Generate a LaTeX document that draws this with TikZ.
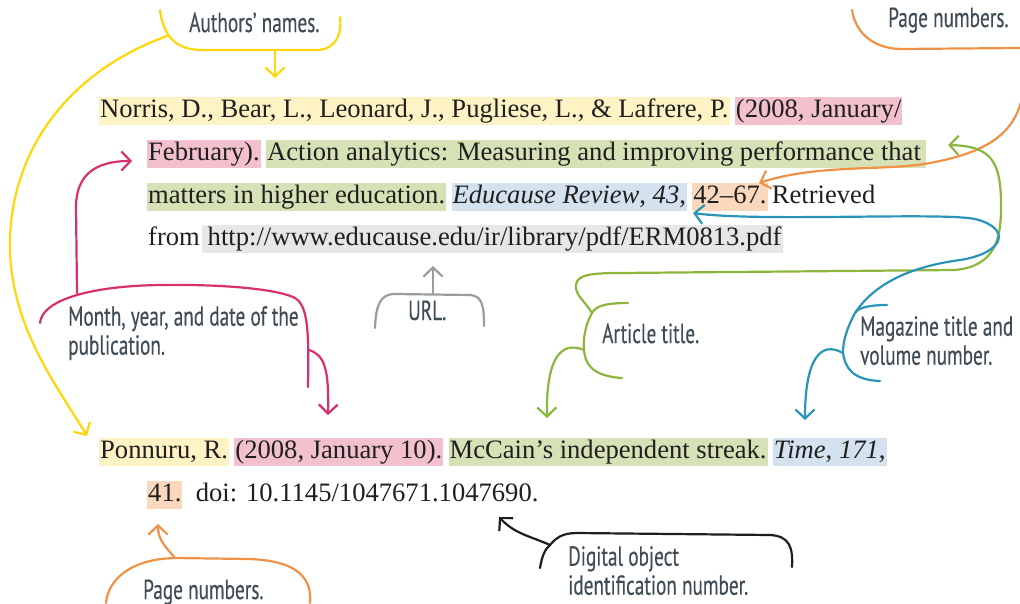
\documentclass[tikz,border=0pt]{standalone}
\usepackage{fontspec}
\setmainfont{Liberation Serif}
\newfontfamily\notefont[FakeStretch=0.7,FakeBold=0.4]{PT Sans}
\usetikzlibrary{positioning,arrows.meta}

\definecolor{hlyellow}{HTML}{FEF3C4}
\definecolor{hlpink}{HTML}{F2C1CD}
\definecolor{hlgreen}{HTML}{D6E1B6}
\definecolor{hlblue}{HTML}{D3E2EE}
\definecolor{hlorange}{HTML}{F9D8BD}
\definecolor{hlgray}{HTML}{E6E7E8}
\definecolor{penyellow}{HTML}{FFD60A}
\definecolor{penpink}{HTML}{D8306F}
\definecolor{penorange}{HTML}{EF9247}
\definecolor{pengreen}{HTML}{8DB63C}
\definecolor{penblue}{HTML}{2A93B8}
\definecolor{pengray}{HTML}{9B9B9B}
\definecolor{penblack}{HTML}{1E1E1E}
\definecolor{notegray}{HTML}{414D55}

\begin{document}
\begin{tikzpicture}[x=1pt,y=-1pt,>={Straight Barb[length=9pt,width=19pt]},
  ref/.style={font=\fontsize{26.6}{30}\selectfont, text=black!88, inner xsep=1pt,
    inner ysep=1.5pt, text height=19pt, text depth=6pt},
  hl/.style={ref, fill=#1},
  note/.style={font=\notefont\fontsize{27.5}{29}\selectfont, text=notegray,
    inner sep=0pt, align=left},
  pen/.style={line width=2.2pt, line cap=round, line join=round, draw=#1}]
  \path[use as bounding box] (0,0) rectangle (1020,603);

  % --- First reference (journal article) ---
  \node[hl=hlyellow, anchor=base west] (auth1) at (99,117.5)
    {Norris, D., Bear, L., Leonard, J., Pugliese, L., \& Lafrere, P.};
  \node[hl=hlpink, base right=5pt of auth1] (date1a) {(2008, January/};
  \node[hl=hlpink, anchor=base west] (date1b) at (147,160.5) {February).};
  \node[hl=hlgreen, base right=5pt of date1b] (title1a)
    {Action analytics: Measuring and improving performance that\,};
  \node[hl=hlgreen, anchor=base west] (title1b) at (147,203.5) {matters in higher education.};
  \node[hl=hlblue, base right=5pt of title1b] (mag1) {\textit{Educause Review}, \textit{43},};
  \node[hl=hlorange, base right=5pt of mag1] (page1) {42--67.};
  \node[ref, base right=3pt of page1] (retr) {Retrieved};
  \node[ref, anchor=base west] (from) at (147,245.5) {from};
  \node[hl=hlgray, base right=1pt of from] (url) {\,http://www.educause.edu/ir/library/pdf/ERM0813.pdf};

  % --- Second reference (magazine article) ---
  \node[hl=hlyellow, anchor=base west] (auth2) at (99,458.5) {Ponnuru, R.};
  \node[hl=hlpink, base right=5pt of auth2] (date2) {(2008, January 10).};
  \node[hl=hlgreen, base right=5pt of date2] (title2) {McCain’s independent streak.};
  \node[hl=hlblue, base right=5pt of title2] (mag2) {\textit{Time}, \textit{171},};
  \node[hl=hlorange, anchor=base west] (page2) at (147,501.5) {41.};
  \node[ref, base right=12pt of page2] (doi) {doi: 10.1145/1047671.1047690.};

  % --- Labels ---
  \node[note, anchor=base west] (authlbl) at (189,32) {Authors’ names.};
  \node[note, anchor=base west] (pagelbl1) at (888,27) {Page numbers.};
  \node[note, anchor=base west] (urllbl) at (408,320) {URL.};
  \node[note, anchor=north west] (datelbl) at (68,306) {Month, year, and date of the\\publication.};
  \node[note, anchor=base west] (titlelbl) at (602,343) {Article title.};
  \node[note, anchor=north west] (maglbl) at (860,316) {Magazine title and\\volume number.};
  \node[note, anchor=north west] (doilbl) at (568,546) {Digital object\\identification number.};
  \node[note, anchor=base west] (pagelbl2) at (143,599) {Page numbers.};

  % --- Authors (yellow) ---
  \coordinate (authL) at (160,10);
  \coordinate (authR) at (340,17);
  \coordinate (authM) at (275,50);
  \coordinate (authS) at (167,36);
  \coordinate (authTip) at (275,78);
  \coordinate (auth2Tip) at (87,436);
  \draw[pen=penyellow] (authL) .. controls (163,32) and (172,49) .. (200,50)
    -- (318,50) .. controls (336,49) and (342,34) .. (authR);
  \draw[pen=penyellow, ->] (authM) -- (authTip);
  \draw[pen=penyellow, ->] (authS) .. controls (60,75) and (8,160) .. (10,250)
    .. controls (12,330) and (60,390) .. (auth2Tip);

  % --- Date (pink) ---
  \coordinate (dateL) at (40,323);
  \coordinate (dateR) at (308,387);
  \coordinate (dateUp) at (77,293);
  \coordinate (dateDn) at (309,350);
  \coordinate (date1Tip) at (132,161);
  \coordinate (date2Tip) at (328,415);
  \draw[pen=penpink] (dateL) .. controls (42,300) and (90,286) .. (160,285)
    .. controls (230,284) and (280,290) .. (295,298)
    .. controls (308,306) and (309,330) .. (dateR);
  \draw[pen=penpink, ->] (dateUp) -- (76,205) .. controls (77,175) and (95,161) .. (date1Tip);
  \draw[pen=penpink, ->] (dateDn) .. controls (325,355) and (329,370) .. (date2Tip);

  % --- URL (gray) ---
  \coordinate (urlL) at (375,328);
  \coordinate (urlR) at (484,326);
  \coordinate (urlM) at (433,293);
  \coordinate (urlTip) at (433,266);
  \draw[pen=pengray] (urlL) .. controls (376,305) and (380,294) .. (395,294)
    -- (470,295) .. controls (482,296) and (484,305) .. (urlR);
  \draw[pen=pengray, ->] (urlM) -- (urlTip);

  % --- Page numbers (orange) ---
  \coordinate (page1L) at (852,10);
  \coordinate (page1E) at (1020,48);
  \coordinate (page1S) at (1021,102);
  \coordinate (page1Tip) at (759,183);
  \draw[pen=penorange] (page1L) .. controls (855,30) and (870,48) .. (900,49) -- (page1E);
  \draw[pen=penorange, ->] (page1S) .. controls (1012,135) and (985,152) .. (935,162)
    .. controls (890,172) and (820,163) .. (page1Tip);
  \coordinate (page2L) at (106,603);
  \coordinate (page2R) at (310,603);
  \coordinate (page2M) at (175,558);
  \coordinate (page2Tip) at (158,524);
  \draw[pen=penorange] (page2L) .. controls (108,580) and (130,559) .. (page2M)
    -- (250,559) .. controls (300,561) and (312,580) .. (page2R);
  \draw[pen=penorange, ->] (page2M) .. controls (165,546) and (158,540) .. (page2Tip);

  % --- Article title (green) ---
  \coordinate (titleT) at (628,303);
  \coordinate (titleJ) at (592,313);
  \coordinate (titleC) at (584,350);
  \coordinate (titleB) at (622,378);
  \coordinate (title1Tip) at (948,145);
  \coordinate (title2Tip) at (547,418);
  \draw[pen=pengreen] (titleT) .. controls (605,303) and (596,306) .. (titleJ)
    .. controls (585,325) and (583,340) .. (titleC)
    .. controls (585,362) and (590,376) .. (titleB);
  \draw[pen=pengreen, ->] (titleJ) .. controls (584,300) and (575,295) .. (576,285)
    .. controls (577,275) and (590,273) .. (620,273) -- (955,270)
    .. controls (995,266) and (1002,240) .. (1001,200)
    .. controls (1000,160) and (990,146) .. (title1Tip);
  \draw[pen=pengreen, ->] (titleC) .. controls (560,340) and (546,360) .. (title2Tip);

  % --- Magazine title (blue) ---
  \coordinate (magT) at (887,305);
  \coordinate (magJ) at (855,313);
  \coordinate (magC) at (843,353);
  \coordinate (magB) at (880,381);
  \coordinate (mag1Tip) at (693,213);
  \coordinate (mag2Tip) at (805,420);
  \draw[pen=penblue] (magT) .. controls (868,305) and (858,308) .. (magJ)
    .. controls (846,330) and (843,342) .. (magC)
    .. controls (845,367) and (852,380) .. (magB);
  \draw[pen=penblue, ->] (magJ) .. controls (870,290) and (900,268) .. (960,260)
    .. controls (1005,253) and (1012,228) .. (975,219)
    .. controls (940,212) and (760,222) .. (mag1Tip);
  \draw[pen=penblue, ->] (magC) .. controls (820,340) and (805,360) .. (mag2Tip);

  % --- DOI (black) ---
  \coordinate (doiL) at (540,568);
  \coordinate (doiJ) at (550,545);
  \coordinate (doiR) at (792,567);
  \coordinate (doiTip) at (499,517);
  \draw[pen=penblack] (doiL) .. controls (542,556) and (545,549) .. (doiJ)
    .. controls (556,538) and (562,533) .. (577,533) -- (770,535)
    .. controls (790,536) and (793,548) .. (doiR);
  \draw[pen=penblack, ->] (doiJ) .. controls (530,536) and (515,534) .. (doiTip);
\end{tikzpicture}
\end{document}
